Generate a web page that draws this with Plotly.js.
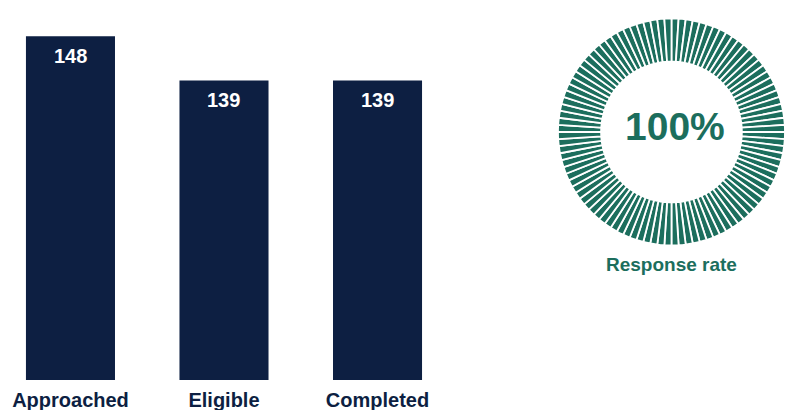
<!DOCTYPE html>
<html>
<head>
<meta charset="utf-8">
<script src="https://cdn.plot.ly/plotly-3.0.1.min.js"></script>
<style>html,body{margin:0;padding:0;background:#fff;}#chart{width:786px;height:410px;}</style>
</head>
<body>
<div id="chart"></div>
<script>
const categories = ["Approached", "Eligible", "Completed"];
const counts = [148, 139, 139];
const responseRate = 100; // percent
const rateLabel = "Response rate";

const navy = "#0d1f42";
const teal = "#1c6e5d";
const fontFam = "'Liberation Sans', Arial, sans-serif";

// ring made of one segment per percentage point
const ringSegments = Array(responseRate).fill(1);

const bars = {
  type: "bar",
  x: categories,
  y: counts,
  marker: {color: navy},
  hoverinfo: "none",
  xaxis: "x", yaxis: "y"
};

const ring = {
  type: "pie",
  values: ringSegments,
  hole: 0.62,
  sort: false,
  direction: "clockwise",
  rotation: 0,
  textinfo: "none",
  hoverinfo: "none",
  marker: {colors: ringSegments.map(() => teal), line: {color: "#ffffff", width: 1.8}},
  domain: {x: [0.7099, 0.9987], y: [0.3622, 0.9784]},
  showlegend: false
};

const annotations = categories.map((c, i) => ({
  x: c, y: counts[i], xref: "x", yref: "y",
  yshift: -20, yanchor: "middle", showarrow: false,
  text: String(counts[i]),
  font: {family: fontFam, size: 20, color: "#ffffff", weight: "bold"}
}));
annotations.push({
  x: 0.8588, y: 0.6838, xref: "paper", yref: "paper", showarrow: false,
  xanchor: "center", yanchor: "middle",
  text: responseRate + "%",
  font: {family: fontFam, size: 39, color: teal, weight: "bold"}
});
annotations.push({
  x: 0.8537, y: 0.3135, xref: "paper", yref: "paper", showarrow: false,
  xanchor: "center", yanchor: "middle",
  text: rateLabel,
  font: {family: fontFam, size: 19, color: teal, weight: "bold"}
});

const layout = {
  width: 786, height: 410,
  margin: {l: 0, r: 0, t: 10, b: 30, pad: 0},
  paper_bgcolor: "#ffffff", plot_bgcolor: "#ffffff",
  showlegend: false,
  bargap: 0.42,
  xaxis: {
    domain: [0, 0.5725], range: [-0.459, 2.472],
    showgrid: false, zeroline: false, showline: false, ticks: "",
    ticklabelstandoff: 6,
    tickfont: {family: fontFam, size: 20, color: navy, weight: "bold"},
    fixedrange: true
  },
  yaxis: {
    range: [77.85, 153.37], visible: false, showgrid: false, zeroline: false, fixedrange: true
  },
  annotations: annotations
};

Plotly.newPlot("chart", [bars, ring], layout, {displayModeBar: false, staticPlot: true});
</script>
</body>
</html>
